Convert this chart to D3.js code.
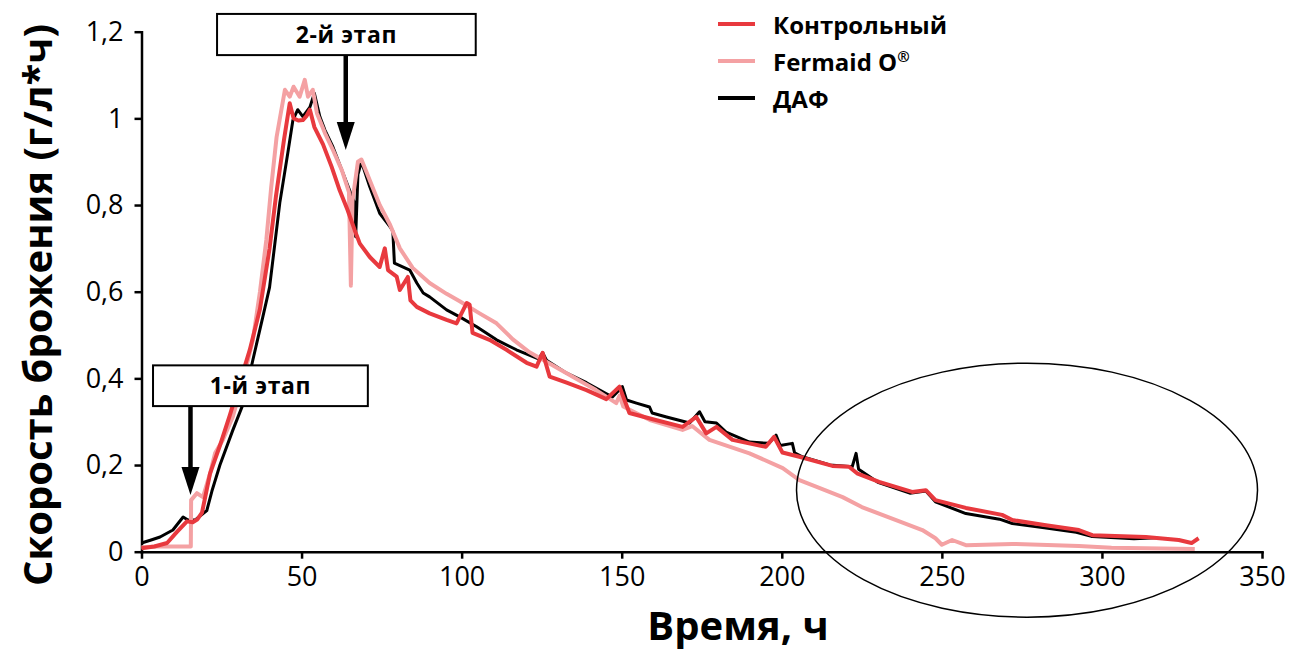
<!DOCTYPE html>
<html>
<head>
<meta charset="utf-8">
<script src="https://cdn.jsdelivr.net/npm/d3@7"></script>
<style>
  body { margin: 0; background: #fff; }
  svg { display: block; font-family: "Open Sans", sans-serif; }
  .axis path, .axis line { stroke: #000; stroke-width: 2.5px; }
  .axis text { font-size: 27px; fill: #000; }
</style>
</head>
<body>
<svg width="1297" height="651"></svg>
<script>
// time, h
var ctrlT = [0, 4, 8, 11, 14.2, 16, 17.5, 18.9, 21.4, 24.5, 27.6, 30.7, 33.8, 37, 40, 42, 44.5, 46.3, 47.5, 49, 50.4, 51.5, 52.6, 54, 56.7, 59.4, 61.9, 64.4, 66.6, 68.2, 71.3, 74.4, 76, 77, 79.7, 80.7, 83.2, 84, 86, 90, 95.3, 98.4, 101.6, 102.5, 103.4, 108.7, 114, 120.3, 123.4, 125.3, 127.5, 132.8, 139, 145.2, 149.3, 152.4, 160, 169, 173.3, 176.4, 179.6, 184.6, 195, 197.6, 200.2, 205.5, 215.8, 221, 223.5, 230.4, 240.7, 245, 248, 257.5, 268.8, 272, 282.5, 292.8, 297, 313.7, 324, 328, 330.2];
var ctrlV = [0.008, 0.012, 0.02, 0.045, 0.07, 0.068, 0.075, 0.09, 0.18, 0.245, 0.315, 0.39, 0.465, 0.56, 0.7, 0.82, 0.95, 1.035, 1.0, 0.995, 0.996, 1.005, 1.02, 0.98, 0.94, 0.888, 0.834, 0.788, 0.742, 0.711, 0.68, 0.657, 0.7, 0.65, 0.635, 0.604, 0.634, 0.58, 0.565, 0.55, 0.535, 0.527, 0.574, 0.57, 0.505, 0.489, 0.466, 0.436, 0.427, 0.459, 0.404, 0.39, 0.373, 0.352, 0.381, 0.32, 0.305, 0.288, 0.311, 0.273, 0.288, 0.258, 0.242, 0.265, 0.229, 0.219, 0.198, 0.196, 0.181, 0.161, 0.138, 0.142, 0.119, 0.101, 0.085, 0.073, 0.061, 0.05, 0.038, 0.034, 0.027, 0.02, 0.031];

var fermT = [0, 5, 10, 15.4, 15.5, 17.3, 19.2, 21.4, 23, 25.4, 28.5, 31.7, 34.8, 37, 39, 40.5, 42.2, 44.8, 46.3, 47.5, 49.4, 51, 52, 53.5, 54.8, 57.3, 59.8, 62.6, 64.8, 65.4, 65.9, 67.6, 68.7, 71.3, 74.4, 77.6, 80.7, 84.7, 90, 95.3, 99.4, 105.6, 110.9, 116, 121.2, 128.4, 134.7, 142, 148.3, 149.3, 150.5, 158.8, 169, 172, 177.4, 189.9, 200.3, 205.5, 210.7, 219, 225, 235.7, 243.9, 248, 250, 253.2, 257.5, 272, 292.8, 303, 329];
var fermV = [0.01, 0.012, 0.012, 0.012, 0.119, 0.135, 0.126, 0.18, 0.228, 0.258, 0.311, 0.396, 0.489, 0.6, 0.72, 0.84, 0.957, 1.066, 1.05, 1.073, 1.05, 1.089, 1.05, 1.066, 1.012, 0.966, 0.927, 0.88, 0.83, 0.614, 0.81, 0.9, 0.905, 0.857, 0.8, 0.755, 0.7, 0.655, 0.62, 0.595, 0.578, 0.55, 0.527, 0.49, 0.46, 0.43, 0.404, 0.373, 0.343, 0.36, 0.335, 0.304, 0.281, 0.29, 0.258, 0.227, 0.193, 0.165, 0.15, 0.126, 0.103, 0.073, 0.05, 0.031, 0.016, 0.027, 0.015, 0.018, 0.013, 0.009, 0.006];

var dafT = [0, 3, 5.8, 9.8, 13, 14.5, 16.7, 20.4, 22, 24.5, 28.5, 31.7, 34.8, 37.9, 40, 43.2, 45.7, 47.3, 48.8, 50.4, 52.6, 54, 55.7, 57.3, 59.8, 62.6, 65, 66.6, 66.9, 67.6, 68.7, 71.3, 74.4, 77.6, 78.5, 79, 83.8, 86, 88, 90, 95.3, 99.4, 104.7, 110.9, 117.1, 124, 125.3, 126.5, 132.8, 139, 147.1, 150.2, 151.5, 154.6, 158.7, 159.5, 164, 171.2, 174.3, 176, 179.6, 182.6, 189.9, 196, 198.2, 199.5, 203.3, 204, 206.4, 215, 222, 223.2, 224, 230, 240, 245, 248, 257.5, 268, 272, 282, 292, 297, 310, 317];
var dafV = [0.02, 0.027, 0.034, 0.05, 0.08, 0.073, 0.073, 0.095, 0.14, 0.2, 0.28, 0.34, 0.443, 0.542, 0.61, 0.805, 0.92, 0.996, 1.02, 1.004, 1.026, 1.058, 1.004, 0.973, 0.934, 0.88, 0.834, 0.804, 0.727, 0.87, 0.9, 0.842, 0.781, 0.75, 0.74, 0.666, 0.65, 0.62, 0.597, 0.588, 0.558, 0.542, 0.519, 0.489, 0.466, 0.445, 0.459, 0.442, 0.412, 0.39, 0.357, 0.381, 0.35, 0.343, 0.334, 0.32, 0.311, 0.297, 0.323, 0.3, 0.297, 0.276, 0.253, 0.25, 0.269, 0.245, 0.25, 0.228, 0.219, 0.2, 0.196, 0.227, 0.19, 0.16, 0.135, 0.14, 0.115, 0.088, 0.075, 0.065, 0.055, 0.045, 0.035, 0.03, 0.032];

var seriesNames = ["Контрольный", "Fermaid O", "ДАФ"];
var xTicks = [0, 50, 100, 150, 200, 250, 300, 350];
var yTicks = [0, 0.2, 0.4, 0.6, 0.8, 1, 1.2];

// stage annotations: label, arrow time, arrow tip value, box [t0, t1, v0, v1]
var stageLabels = ["1-й этап", "2-й этап"];
var stageArrowT = [15.3, 63.8];
var stageArrowV = [0.131, 0.927];
var stageBox = [[3.6, 70.7, 0.43, 0.336], [23.6, 104.4, 1.241, 1.146]];

var svg = d3.select("svg");
var x = d3.scaleLinear().domain([0, 350]).range([141.5, 1262]);
var y = d3.scaleLinear().domain([0, 1.2]).range([551.7, 31.7]);
var color = d3.scaleOrdinal().domain(seriesNames).range(["#e8393e", "#f4a1a3", "#000000"]);
var widths = { "Контрольный": 4, "Fermaid O": 4, "ДАФ": 3 };
var comma = function(d) { return String(d).replace(".", ","); };

// axes
svg.append("g")
    .attr("class", "axis")
    .attr("transform", "translate(0," + y(0) + ")")
    .call(d3.axisBottom(x).tickValues(xTicks).tickSize(7).tickSizeOuter(0).tickPadding(7))
    .call(function(g) { g.selectAll("text").attr("dy", "0.75em"); });

svg.append("g")
    .attr("class", "axis")
    .attr("transform", "translate(" + x(0) + ",0)")
    .call(d3.axisLeft(y).tickValues(yTicks).tickFormat(comma).tickSize(7).tickSizeOuter(0).tickPadding(11));

svg.selectAll(".axis .domain").attr("stroke-linecap", "square");
svg.selectAll(".axis text").attr("font-family", "Open Sans");

// curves
var line = d3.line()
    .x(function(d) { return x(d[0]); })
    .y(function(d) { return y(d[1]); });

var series = [
    { name: "ДАФ", t: dafT, v: dafV },
    { name: "Fermaid O", t: fermT, v: fermV },
    { name: "Контрольный", t: ctrlT, v: ctrlV }
];

svg.selectAll(".curve")
    .data(series)
    .enter().append("path")
    .attr("class", "curve")
    .attr("fill", "none")
    .attr("stroke", function(d) { return color(d.name); })
    .attr("stroke-width", function(d) { return widths[d.name]; })
    .attr("stroke-linejoin", "round")
    .attr("d", function(d) { return line(d3.zip(d.t, d.v)); });

// ellipse round the tail
svg.append("ellipse")
    .attr("cx", x(276.6))
    .attr("cy", y(0.142))
    .attr("rx", x(72) - x(0))
    .attr("ry", y(0) - y(0.293))
    .attr("fill", "none")
    .attr("stroke", "#000")
    .attr("stroke-width", 1.5);

// stage boxes and arrows
stageLabels.forEach(function(label, i) {
    var b = stageBox[i];
    var g = svg.append("g");
    g.append("rect")
        .attr("x", x(b[0]))
        .attr("y", y(b[2]))
        .attr("width", x(b[1]) - x(b[0]))
        .attr("height", y(b[3]) - y(b[2]))
        .attr("fill", "#fff")
        .attr("stroke", "#000")
        .attr("stroke-width", 2);
    g.append("text")
        .attr("x", (x(b[0]) + x(b[1])) / 2)
        .attr("y", y(b[3]) - 12)
        .attr("text-anchor", "middle")
        .attr("font-size", 23)
        .attr("letter-spacing", 0.6)
        .attr("font-weight", "bold")
        .text(label);
    var ax = x(stageArrowT[i]), tip = y(stageArrowV[i]);
    g.append("line")
        .attr("x1", ax).attr("x2", ax)
        .attr("y1", y(b[3]))
        .attr("y2", tip - 24)
        .attr("stroke", "#000")
        .attr("stroke-width", 4.5);
    g.append("path")
        .attr("d", "M" + (ax - 9) + "," + (tip - 28) + "L" + (ax + 9) + "," + (tip - 28) + "L" + ax + "," + tip + "Z")
        .attr("fill", "#000");
});

// legend
var legend = svg.selectAll(".legend")
    .data(seriesNames)
    .enter().append("g")
    .attr("class", "legend")
    .attr("transform", function(d, i) { return "translate(718," + (24 + i * 37) + ")"; });

legend.append("line")
    .attr("x1", 0).attr("x2", 37)
    .attr("stroke", function(d) { return color(d); })
    .attr("stroke-width", 4);

var legendText = legend.append("text")
    .attr("x", 55)
    .attr("y", 10)
    .attr("font-size", 24)
    .attr("font-weight", "bold")
    .text(function(d) { return d; });

legendText.filter(function(d) { return d === "Fermaid O"; })
    .append("tspan")
    .attr("dy", -9)
    .attr("font-size", 15)
    .text("®");

// axis titles
svg.append("text")
    .attr("x", 738)
    .attr("y", 640)
    .attr("text-anchor", "middle")
    .attr("font-size", 40)
    .attr("font-weight", "bold")
    .text("Время, ч");

svg.append("text")
    .attr("transform", "translate(52,305) rotate(-90)")
    .attr("text-anchor", "middle")
    .attr("font-size", 40)
    .attr("font-weight", "bold")
    .text("Скорость брожения (г/л*ч)");
</script>
</body>
</html>
